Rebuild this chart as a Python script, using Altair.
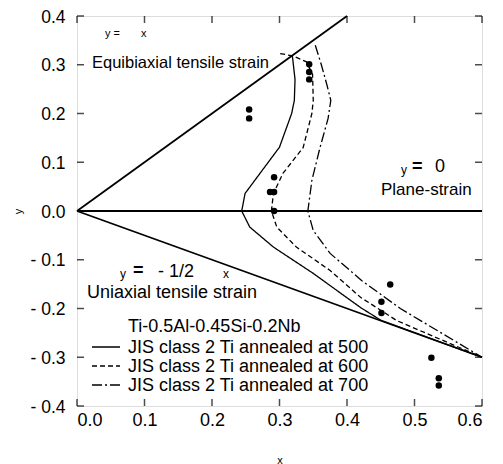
import altair as alt
import pandas as pd

FONT = "Liberation Sans"
W, H = 405, 390

# Reference lines (y = x, y = 0, y = -x/2)
ref_names = ["eq", "eq", "ps", "ps", "ua", "ua"]
ref_x = [0.0, 0.4, 0.0, 0.6, 0.0, 0.6]
ref_y = [0.0, 0.4, 0.0, 0.0, 0.0, -0.3]

# Forming limit curves
c500_x = [0.319, 0.323, 0.322, 0.318, 0.300, 0.271, 0.249, 0.244, 0.256, 0.291, 0.350, 0.420, 0.450, 0.600]
c500_y = [0.319, 0.270, 0.227, 0.200, 0.131, 0.077, 0.036, 0.000, -0.033, -0.074, -0.128, -0.198, -0.224, -0.300]
c600_x = [0.301, 0.320, 0.340, 0.349, 0.350, 0.348, 0.335, 0.305, 0.291, 0.288, 0.296, 0.325, 0.375, 0.420, 0.474, 0.600]
c600_y = [0.323, 0.318, 0.306, 0.280, 0.227, 0.200, 0.130, 0.077, 0.036, 0.000, -0.033, -0.074, -0.122, -0.177, -0.225, -0.300]
c700_x = [0.353, 0.362, 0.370, 0.376, 0.372, 0.360, 0.348, 0.342, 0.350, 0.375, 0.422, 0.479, 0.600]
c700_y = [0.340, 0.300, 0.260, 0.227, 0.190, 0.130, 0.063, 0.000, -0.040, -0.087, -0.143, -0.200, -0.300]
series_names = ["JIS class 2 Ti annealed at 500",
                "JIS class 2 Ti annealed at 600",
                "JIS class 2 Ti annealed at 700"]

# Measured points
dot_x = [0.255, 0.255, 0.292, 0.286, 0.292, 0.292, 0.344, 0.344, 0.344,
         0.464, 0.451, 0.451, 0.525, 0.536, 0.536]
dot_y = [0.208, 0.190, 0.069, 0.039, 0.039, 0.000, 0.301, 0.285, 0.270,
         -0.151, -0.186, -0.209, -0.301, -0.343, -0.358]

x_ticks = [0.0, 0.1, 0.2, 0.3, 0.4, 0.5, 0.6]
y_ticks = [-0.4, -0.3, -0.2, -0.1, 0.0, 0.1, 0.2, 0.3, 0.4]

ref_df = pd.DataFrame({"line": ref_names, "x": ref_x, "y": ref_y,
                       "o": list(range(len(ref_x)))})
rows = []
for name, xs, ys in zip(series_names, [c500_x, c600_x, c700_x], [c500_y, c600_y, c700_y]):
    for i, (a, b) in enumerate(zip(xs, ys)):
        rows.append({"series": name, "x": a, "y": b, "o": i})
curve_df = pd.DataFrame(rows)
dot_df = pd.DataFrame({"x": dot_x, "y": dot_y})
xt_df = pd.DataFrame({"v": x_ticks})
yt_df = pd.DataFrame({"v": y_ticks})

xscale = alt.Scale(domain=[0, 0.6], nice=False, zero=False)
yscale = alt.Scale(domain=[-0.4, 0.4], nice=False, zero=False)

ylabel_expr = "datum.value < -0.0001 ? '- ' + format(-datum.value, '.1f') : format(datum.value, '.1f')"

ax_common = dict(grid=False, domain=False, ticks=False, labelColor="black",
                 labelFont=FONT, titleFont=FONT,
                 titleFontSize=11, titleFontWeight="normal", titleColor="black")

x_bottom = alt.Axis(values=x_ticks, format=".1f", orient="bottom", title="x",
                    labelFontSize=18, labelPadding=5, titlePadding=25, **ax_common)
y_left = alt.Axis(values=y_ticks, labelExpr=ylabel_expr, orient="left", title="y",
                  labelFontSize=17.5, labelOffset=1,
                  labelPadding=12, titlePadding=6, **ax_common)

refs = alt.Chart(ref_df).mark_line(color="black", strokeWidth=1.8).encode(
    x=alt.X("x:Q", scale=xscale, axis=x_bottom),
    y=alt.Y("y:Q", scale=yscale, axis=y_left),
    detail="line:N",
    order="o:Q",
)

curves = alt.Chart(curve_df).mark_line(color="black", strokeWidth=1.3).encode(
    x=alt.X("x:Q", scale=xscale),
    y=alt.Y("y:Q", scale=yscale),
    strokeDash=alt.StrokeDash("series:N",
                              scale=alt.Scale(domain=series_names,
                                              range=[[1, 0], [5, 3], [10, 3, 2, 3]]),
                              legend=None),
    order="o:Q",
)

dots = alt.Chart(dot_df).mark_circle(color="black", size=42, opacity=1).encode(
    x=alt.X("x:Q", scale=xscale),
    y=alt.Y("y:Q", scale=yscale),
)

# inward tick marks on all four sides
TK = 7
tick_layers = [
    alt.Chart(xt_df).mark_tick(color="black", thickness=1.5, size=TK, yOffset=-TK / 2).encode(
        x=alt.X("v:Q", scale=xscale), y=alt.value(H)),
    alt.Chart(xt_df).mark_tick(color="black", thickness=1.5, size=TK, yOffset=TK / 2).encode(
        x=alt.X("v:Q", scale=xscale), y=alt.value(0)),
    alt.Chart(yt_df).mark_tick(color="black", thickness=1.5, size=TK, xOffset=TK / 2).encode(
        y=alt.Y("v:Q", scale=yscale), x=alt.value(0)),
    alt.Chart(yt_df).mark_tick(color="black", thickness=1.5, size=TK, xOffset=-TK / 2).encode(
        y=alt.Y("v:Q", scale=yscale), x=alt.value(W)),
]


def label(text, x, y, size=18, weight="normal"):
    return alt.Chart(pd.DataFrame({"t": [text]})).mark_text(
        align="left", baseline="alphabetic", font=FONT, fontSize=size,
        fontWeight=weight, color="black"
    ).encode(x=alt.value(x), y=alt.value(y), text="t:N")


texts = [
    label("y =", 28, 21, 11),
    label("x", 64, 21, 11),
    label("Equibiaxial tensile strain", 15, 52, 16.5),
    label("y", 324, 158, 12),
    label("=", 335, 156, 18, "bold"),
    label("0", 358, 156, 18),
    label("Plane-strain", 304, 179, 17),
    label("y", 43, 262, 12),
    label("=", 56, 260, 18, "bold"),
    label("- 1/2", 81, 261, 18),
    label("x", 146, 262, 12),
    label("Uniaxial tensile strain", 10, 282, 18),
    label("Ti-0.5Al-0.45Si-0.2Nb", 51, 316, 18),
    label(series_names[0], 51, 336.5, 18),
    label(series_names[1], 51, 355.5, 18),
    label(series_names[2], 51, 374.5, 18),
]

dash_list = [[1, 0], [5, 3], [10, 3, 2, 3]]
leg_y = [331, 350, 369]
leg_lines = []
for dsh, yy in zip(dash_list, leg_y):
    leg_lines.append(
        alt.Chart(pd.DataFrame({"a": [0]})).mark_rule(
            color="black", strokeWidth=1.3, strokeDash=dsh
        ).encode(x=alt.value(15), x2=alt.value(43), y=alt.value(yy))
    )

chart = alt.layer(refs, curves, dots, *tick_layers, *texts, *leg_lines).properties(
    width=W, height=H,
    autosize=alt.AutoSizeParams(type="none"),
    padding={"left": 69, "top": 8, "right": 10, "bottom": 58},
).configure_view(stroke="black", strokeWidth=1).configure(background="white")

chart.save("out.html", embed_options={"renderer": "svg", "actions": False})
